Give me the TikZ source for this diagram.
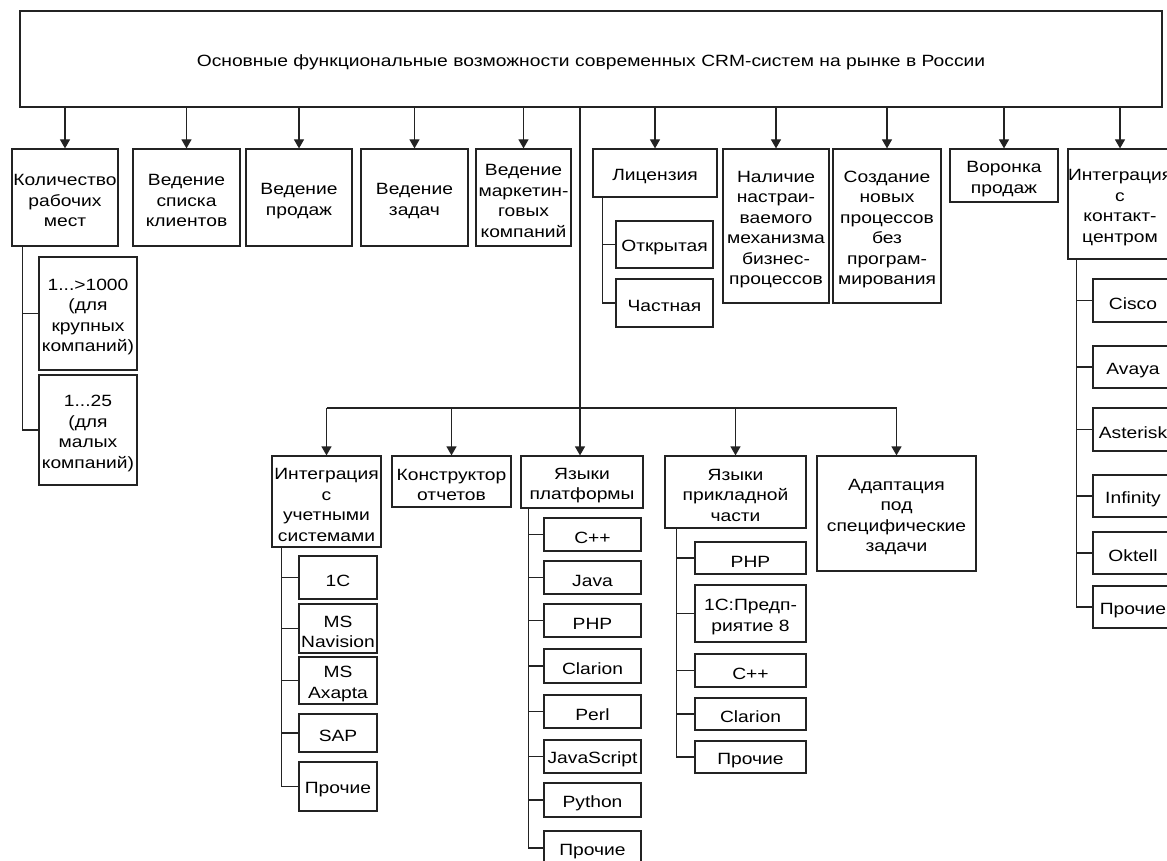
\documentclass[tikz,border=0pt]{standalone}
\usepackage{fontspec}
\setmainfont{Liberation Sans}[FakeStretch=1.18]
\usetikzlibrary{arrows.meta}
\hyphenpenalty=10000
\exhyphenpenalty=10000
\definecolor{ln}{RGB}{35,35,35}
\tikzset{
  box/.style={draw=ln, line width=1.2pt, inner sep=0pt, align=center,
    font=\fontsize{16.3}{20.5}\selectfont, text=black,
    execute at begin node={\rule{0pt}{18pt}}},
  conn/.style={draw=ln, line width=1.2pt},
  arr/.style={conn, -{Triangle[width=10pt,length=9pt]}},
}
\newcommand\bx[6]{%
  \pgfmathsetmacro\bxw{#4-#2}\pgfmathsetmacro\bxh{#5-#3}%
  \pgfmathsetmacro\bxx{(#2+#4)/2}\pgfmathsetmacro\bxy{(#3+#5)/2}%
  \node[box, text width=\bxw pt, minimum height=\bxh pt] (#1) at (\bxx,\bxy) {#6};}
\begin{document}
\begin{tikzpicture}[x=1pt,y=-1pt]
\useasboundingbox (0,0) rectangle (1167,861);
\fill[white] (0,0) rectangle (1167,861);
\clip (0,0) rectangle (1167,861);

\bx{top}{20}{11}{1162}{107}{Основные функциональные возможности современных CRM-систем на рынке в России}

% first row
\bx{kol}{12}{149}{118}{246}{Количество\\рабочих\\мест}
\bx{spis}{133}{149}{240}{246}{Ведение\\списка\\клиентов}
\bx{prod}{246}{149}{352}{246}{Ведение\\продаж}
\bx{zad}{361}{149}{468}{246}{Ведение\\задач}
\bx{mark}{476}{149}{571}{246}{Ведение\\маркетин-\\говых\\компаний}
\bx{lic}{593}{149}{717}{197}{Лицензия}
\bx{nal}{723}{149}{829}{303}{Наличие\\настраи-\\ваемого\\механизма\\бизнес-\\процессов}
\bx{sozd}{833}{149}{941}{303}{Создание\\новых\\процессов\\без\\програм-\\мирования}
\bx{vor}{950}{149}{1058}{202}{Воронка\\продаж}
\bx{kc}{1068}{149}{1172}{259}{Интеграция\\с\\контакт-\\центром}

% children of first row
\bx{k1}{39}{257}{137}{370}{1...>1000\\(для\\крупных\\компаний)}
\bx{k2}{39}{375}{137}{485}{1...25\\(для\\малых\\компаний)}
\bx{otk}{616}{221}{713}{268}{Открытая}
\bx{chas}{616}{279}{713}{327}{Частная}
\bx{cisco}{1093}{279}{1173}{322}{Cisco}
\bx{avaya}{1093}{346}{1173}{388}{Avaya}
\bx{ast}{1093}{408}{1173}{451}{Asterisk}
\bx{inf}{1093}{475}{1173}{517}{Infinity}
\bx{okt}{1093}{532}{1173}{574}{Oktell}
\bx{kcpr}{1093}{586}{1173}{628}{Прочие}

% second row
\bx{ius}{272}{456}{381}{547}{Интеграция\\с\\учетными\\системами}
\bx{kons}{392}{456}{511}{507}{Конструктор\\отчетов}
\bx{yap}{521}{456}{643}{508}{Языки\\платформы}
\bx{yapr}{665}{456}{806}{528}{Языки\\прикладной\\части}
\bx{adap}{817}{456}{976}{571}{Адаптация\\под\\специфические\\задачи}

% children of second row
\bx{i1}{299}{556}{377}{599}{1С}
\bx{i2}{299}{604}{377}{653}{MS\\Navision}
\bx{i3}{299}{657}{377}{704}{MS\\Axapta}
\bx{i4}{299}{714}{377}{752}{SAP}
\bx{i5}{299}{762}{377}{811}{Прочие}

\bx{p1}{544}{518}{641}{551}{C++}
\bx{p2}{544}{561}{641}{594}{Java}
\bx{p3}{544}{604}{641}{637}{PHP}
\bx{p4}{544}{649}{641}{683}{Clarion}
\bx{p5}{544}{695}{641}{728}{Perl}
\bx{p6}{544}{740}{641}{773}{JavaScript}
\bx{p7}{544}{783}{641}{817}{Python}
\bx{p8}{544}{831}{641}{865}{Прочие}

\bx{a1}{695}{542}{806}{574}{PHP}
\bx{a2}{695}{585}{806}{642}{1С:Предп-\\риятие 8}
\bx{a3}{695}{654}{806}{687}{C++}
\bx{a4}{695}{698}{806}{730}{Clarion}
\bx{a5}{695}{741}{806}{773}{Прочие}

% arrows from the top box
\foreach \n in {kol,spis,prod,zad,mark,lic,nal,sozd,vor,kc}
  \draw[arr] (top.south -| \n.north) -- (\n.north);

% trunk and bus
\coordinate (trunk) at (580,408);
\draw[conn] (top.south -| trunk) -- (trunk);
\draw[conn] (ius.north |- trunk) -- (adap.north |- trunk);
\foreach \n in {ius,kons,yapr,adap}
  \draw[arr] (\n.north |- trunk) -- (\n.north);
\draw[arr] (trunk) -- (yap.north -| trunk);

% branches
\coordinate (bkol) at ([xshift=11pt]kol.south west);
\draw[conn] (bkol) |- (k2.west);
\draw[conn] (k1.west -| bkol) -- (k1.west);

\coordinate (blic) at ([xshift=10pt]lic.south west);
\draw[conn] (blic) |- (chas.west);
\draw[conn] (otk.west -| blic) -- (otk.west);

\coordinate (bkc) at ([xshift=9pt]kc.south west);
\draw[conn] (bkc) |- (kcpr.west);
\foreach \n in {cisco,avaya,ast,inf,okt}
  \draw[conn] (\n.west -| bkc) -- (\n.west);

\coordinate (bius) at ([xshift=10pt]ius.south west);
\draw[conn] (bius) |- (i5.west);
\foreach \n in {i1,i2,i3,i4}
  \draw[conn] (\n.west -| bius) -- (\n.west);

\coordinate (byap) at ([xshift=8pt]yap.south west);
\draw[conn] (byap) |- (p8.west);
\foreach \n in {p1,p2,p3,p4,p5,p6,p7}
  \draw[conn] (\n.west -| byap) -- (\n.west);

\coordinate (byapr) at ([xshift=12pt]yapr.south west);
\draw[conn] (byapr) |- (a5.west);
\foreach \n in {a1,a2,a3,a4}
  \draw[conn] (\n.west -| byapr) -- (\n.west);
\end{tikzpicture}
\end{document}
